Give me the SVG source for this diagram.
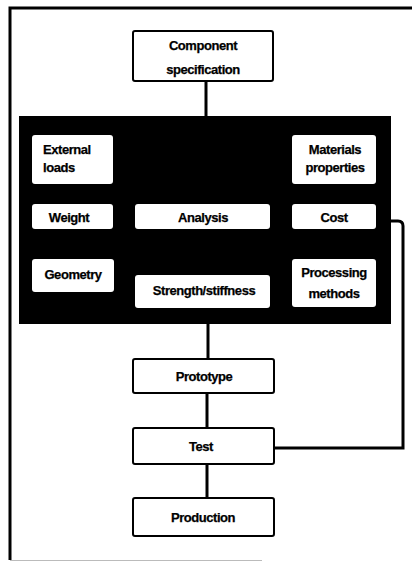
<svg xmlns="http://www.w3.org/2000/svg" width="413" height="562" viewBox="0 0 413 562">
  <style>
    .box { fill: #fff; stroke: #000; stroke-width: 2; }
    .inner { fill: #fff; stroke: none; }
    .lbl { font-family: "Liberation Sans", Arial, sans-serif; font-weight: bold; font-size: 13px; fill: #000; stroke: #000; stroke-width: 0.25; text-anchor: middle; letter-spacing: -0.45px; }
    .left { text-anchor: start; }
    .wire { fill: none; stroke: #000; stroke-width: 3; }
  </style>
  <rect x="0" y="0" width="413" height="562" fill="#fff"/>

  <!-- page frame -->
  <g id="frame">
    <path d="M10,560 V8 H412" fill="none" stroke="#000" stroke-width="3"/>
    <line x1="10" y1="560.5" x2="262" y2="560.5" stroke="#bbb" stroke-width="1"/>
  </g>

  <!-- connectors -->
  <g id="connectors">
    <line class="wire" x1="206" y1="81" x2="206" y2="117"/>
    <line class="wire" x1="208" y1="323" x2="208" y2="359"/>
    <line class="wire" x1="207" y1="393" x2="207" y2="428"/>
    <line class="wire" x1="207" y1="464" x2="207" y2="498"/>
    <path class="wire" stroke-width="2.5" d="M390,221 H398 Q403,221 403,226 V448 H274"/>
  </g>

  <g id="spec">
    <rect class="box" x="133" y="31" width="140" height="50" rx="2"/>
    <text class="lbl" x="203" y="50">Component</text>
    <text class="lbl" x="203" y="74">specification</text>
  </g>

  <!-- analysis block -->
  <g id="analysis-block">
    <rect x="19" y="116" width="372" height="208" fill="#000"/>
  </g>

  <g id="external-loads">
    <rect class="inner" x="32" y="135" width="81" height="49" rx="3"/>
    <text class="lbl left" x="43" y="154">External</text>
    <text class="lbl left" x="43" y="172">loads</text>
  </g>

  <g id="materials">
    <rect class="inner" x="292" y="135" width="84" height="49" rx="3"/>
    <text class="lbl" x="335" y="154">Materials</text>
    <text class="lbl" x="335" y="172">properties</text>
  </g>

  <g id="weight">
    <rect class="inner" x="32" y="204" width="81" height="25" rx="3"/>
    <text class="lbl" x="69" y="222">Weight</text>
  </g>

  <g id="analysis">
    <rect class="inner" x="135" y="204" width="135" height="25" rx="3"/>
    <text class="lbl" x="203" y="222">Analysis</text>
  </g>

  <g id="cost">
    <rect class="inner" x="292" y="204" width="84" height="25" rx="3"/>
    <text class="lbl" x="334" y="222">Cost</text>
  </g>

  <g id="geometry">
    <rect class="inner" x="32" y="259" width="82" height="33" rx="3"/>
    <text class="lbl" x="73" y="279">Geometry</text>
  </g>

  <g id="strength">
    <rect class="inner" x="135" y="275" width="135" height="33" rx="3"/>
    <text class="lbl" x="204" y="295">Strength/stiffness</text>
  </g>

  <g id="processing">
    <rect class="inner" x="292" y="259" width="84" height="48" rx="3"/>
    <text class="lbl" x="334" y="277">Processing</text>
    <text class="lbl" x="334" y="298">methods</text>
  </g>

  <g id="prototype">
    <rect class="box" x="133" y="359" width="141" height="34" rx="2"/>
    <text class="lbl" x="204" y="381">Prototype</text>
  </g>

  <g id="test">
    <rect class="box" x="133" y="428" width="141" height="36" rx="2" stroke-width="1.8"/>
    <text class="lbl" x="201" y="451">Test</text>
  </g>

  <g id="production">
    <rect class="box" x="133" y="498" width="141" height="38" rx="2"/>
    <text class="lbl" x="203" y="522">Production</text>
  </g>
</svg>
